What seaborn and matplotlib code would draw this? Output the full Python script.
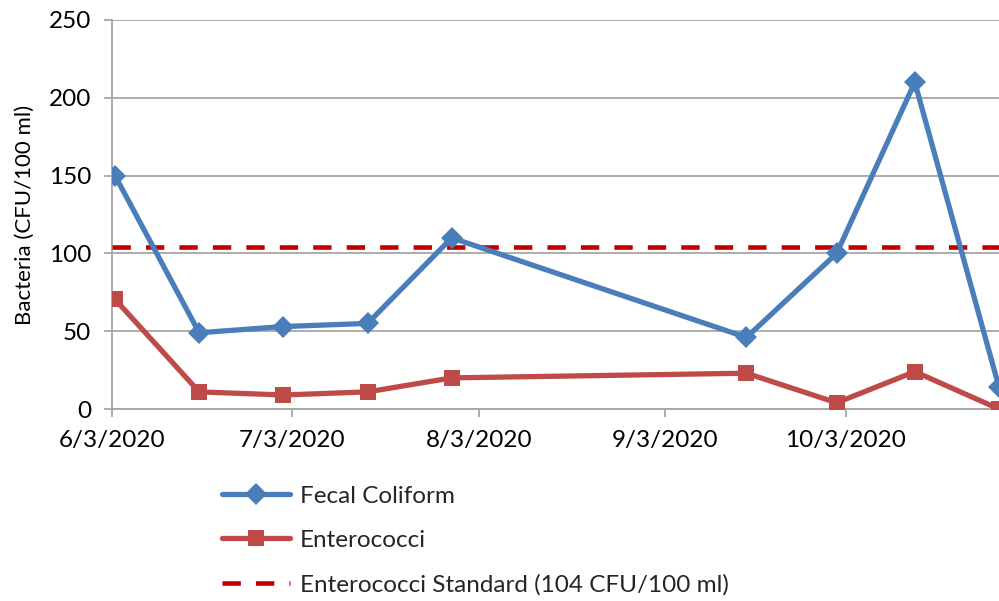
import matplotlib
matplotlib.use("Agg")
import matplotlib.pyplot as plt
import matplotlib.dates as mdates
import seaborn as sns
import pandas as pd

sample_dates = ["2020-06-03", "2020-06-17", "2020-07-01", "2020-07-15", "2020-07-29",
                "2020-09-16", "2020-10-01", "2020-10-14", "2020-10-28"]
fecal_coliform = [150, 49, 53, 55, 110, 46, 100, 210, 14]
enterococci = [70.5, 11, 9, 11, 20, 23, 4, 24, 0]
standard_value = 104
tick_dates = ["2020-06-03", "2020-07-03", "2020-08-03", "2020-09-03", "2020-10-03"]
y_ticks = [0, 50, 100, 150, 200, 250]

sns.set_theme(style="white")
plt.rcParams['font.family'] = ['Lato', 'DejaVu Sans']

dates = pd.to_datetime(sample_dates) + pd.Timedelta(hours=12)
df = pd.DataFrame({"date": dates, "fc": fecal_coliform, "ent": enterococci})

fig = plt.figure(figsize=(9.99, 6.01), dpi=100)
ax = fig.add_axes([112/999, (601-409)/601, 1 - 112/999, (409-20)/601])

blue = "#4A7EBB"
red = "#BE4B48"
dark_red = "#C00000"

sns.lineplot(data=df, x="date", y="fc", ax=ax, color=blue, lw=3.8, marker="D",
             markersize=11.5, markeredgewidth=0, label="Fecal Coliform", zorder=4)
sns.lineplot(data=df, x="date", y="ent", ax=ax, color=red, lw=3.8, marker="s",
             markersize=12, markeredgewidth=0, label="Enterococci", zorder=4)
ax.axhline(standard_value, color=dark_red, lw=3.3, dashes=(4, 3.3),
           label="Enterococci Standard (104 CFU/100 ml)", zorder=3)

ax.set_xlim(pd.Timestamp(sample_dates[0]), pd.Timestamp(sample_dates[-1]) + pd.Timedelta(hours=12))
ax.set_ylim(0, 250)
ax.set_yticks(y_ticks)
ax.set_xticks(pd.to_datetime(tick_dates))
ax.xaxis.set_major_formatter(mdates.DateFormatter("%-m/%-d/%Y"))

ax.yaxis.grid(True, color="#A6A6A6", lw=1.3)
ax.xaxis.grid(False)
for s in ["top", "right"]:
    ax.spines[s].set_visible(False)
for s in ["left", "bottom"]:
    ax.spines[s].set_color("#A6A6A6")
    ax.spines[s].set_linewidth(1.3)
ax.tick_params(axis="both", which="major", direction="out", length=6, width=1.3,
               color="#A6A6A6", labelsize=17.5, labelcolor="black")
ax.tick_params(axis="y", pad=9, left=True)
ax.tick_params(axis="x", pad=9, bottom=True)

ax.set_xlabel("")
ax.set_ylabel("Bacteria (CFU/100 ml)", fontsize=16, color="black", labelpad=10)

handles, labels = ax.get_legend_handles_labels()
ax.get_legend().remove()
fig.legend(handles, labels, loc="upper left", bbox_to_anchor=(212/999, 1 - 476/601),
           frameon=False, fontsize=17.5, handlelength=2.8, handletextpad=0.4,
           labelspacing=0.95, borderaxespad=0)

fig.savefig("out.png", dpi=100)
